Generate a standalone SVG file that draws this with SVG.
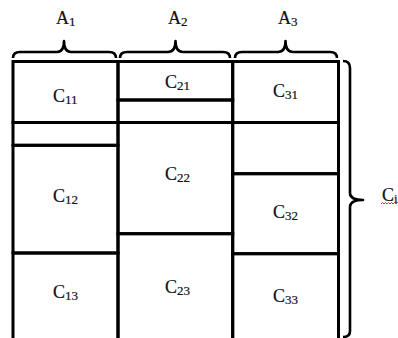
<svg xmlns="http://www.w3.org/2000/svg" width="398" height="338" viewBox="0 0 398 338">
  <style>
    .cell { fill: none; stroke: #000; stroke-width: 3; }
    .brace { fill: none; stroke: #000; stroke-width: 2.6; stroke-linejoin: round; }
    .lbl { font-family: "Liberation Serif", "Times New Roman", serif; font-size: 18px; fill: #101018; stroke: #101018; stroke-width: 0.2; }
    .sub { font-size: 13px; }
    .squiggle { fill: none; stroke: #e03030; stroke-width: 1; }
  </style>

  <!-- column braces -->
  <g id="braces">
    <path class="brace" d="M13,58 Q13,52 20,52 L57,52 Q64,52 64,41 Q64,52 71,52 L109,52 Q116,52 116,58"/>
    <path class="brace" d="M120,58 Q120,52 127,52 L168,52 Q175.5,52 175.5,41 Q175.5,52 183,52 L223,52 Q230,52 230,58"/>
    <path class="brace" d="M235,58 Q235,52 242,52 L278,52 Q285.5,52 285.5,41 Q285.5,52 293,52 L330,52 Q337,52 337,58"/>
    <!-- row brace on the right -->
    <path class="brace" d="M343,61 Q350,61 350,68 L350,193 Q350,200 363,200 Q350,200 350,207 L350,331 Q350,337 343,337"/>
  </g>

  <g id="A1"><text class="lbl" x="56" y="24">A<tspan class="sub" dy="2">1</tspan></text></g>
  <g id="A2"><text class="lbl" x="168" y="24">A<tspan class="sub" dy="2">2</tspan></text></g>
  <g id="A3"><text class="lbl" x="278" y="24">A<tspan class="sub" dy="2">3</tspan></text></g>

  <!-- column 1 -->
  <g id="C11">
    <rect class="cell" x="13" y="61.5" width="105" height="61"/>
    <text class="lbl" x="53" y="102">C<tspan class="sub" dy="2">11</tspan></text>
  </g>
  <g id="gap1"><rect class="cell" x="13" y="122.5" width="105" height="22.8"/></g>
  <g id="C12">
    <rect class="cell" x="13" y="145.3" width="105" height="107.7"/>
    <text class="lbl" x="53" y="202">C<tspan class="sub" dy="2">12</tspan></text>
  </g>
  <g id="C13">
    <rect class="cell" x="13" y="253" width="105" height="95"/>
    <text class="lbl" x="53" y="298">C<tspan class="sub" dy="2">13</tspan></text>
  </g>

  <!-- column 2 -->
  <g id="C21">
    <rect class="cell" x="118" y="61.5" width="114.7" height="38.5"/>
    <text class="lbl" x="165" y="88">C<tspan class="sub" dy="2">21</tspan></text>
  </g>
  <g id="gap2"><rect class="cell" x="118" y="100" width="114.7" height="22.5"/></g>
  <g id="C22">
    <rect class="cell" x="118" y="122.5" width="114.7" height="111.2"/>
    <text class="lbl" x="165" y="180">C<tspan class="sub" dy="2">22</tspan></text>
  </g>
  <g id="C23">
    <rect class="cell" x="118" y="233.7" width="114.7" height="114"/>
    <text class="lbl" x="165" y="293">C<tspan class="sub" dy="2">23</tspan></text>
  </g>

  <!-- column 3 -->
  <g id="C31">
    <rect class="cell" x="232.7" y="61.5" width="105.8" height="61"/>
    <text class="lbl" x="273" y="97">C<tspan class="sub" dy="2">31</tspan></text>
  </g>
  <g id="gap3"><rect class="cell" x="232.7" y="122.5" width="105.8" height="51.2"/></g>
  <g id="C32">
    <rect class="cell" x="232.7" y="173.7" width="105.8" height="80"/>
    <text class="lbl" x="273" y="218">C<tspan class="sub" dy="2">32</tspan></text>
  </g>
  <g id="C33">
    <rect class="cell" x="232.7" y="253.7" width="105.8" height="94"/>
    <text class="lbl" x="273" y="302">C<tspan class="sub" dy="2">33</tspan></text>
  </g>

  <!-- row label at the right edge -->
  <g id="Ci">
    <text class="lbl" x="382" y="201">C<tspan class="sub" dy="2">i</tspan></text>
    <path class="squiggle" d="M381,204 l1.5,-1.5 l1.5,1.5 l1.5,-1.5 l1.5,1.5 l1.5,-1.5 l1.5,1.5 l1.5,-1.5 l1.5,1.5 l1.5,-1.5 l1.5,1.5 l1.5,-1.5"/>
  </g>
</svg>
